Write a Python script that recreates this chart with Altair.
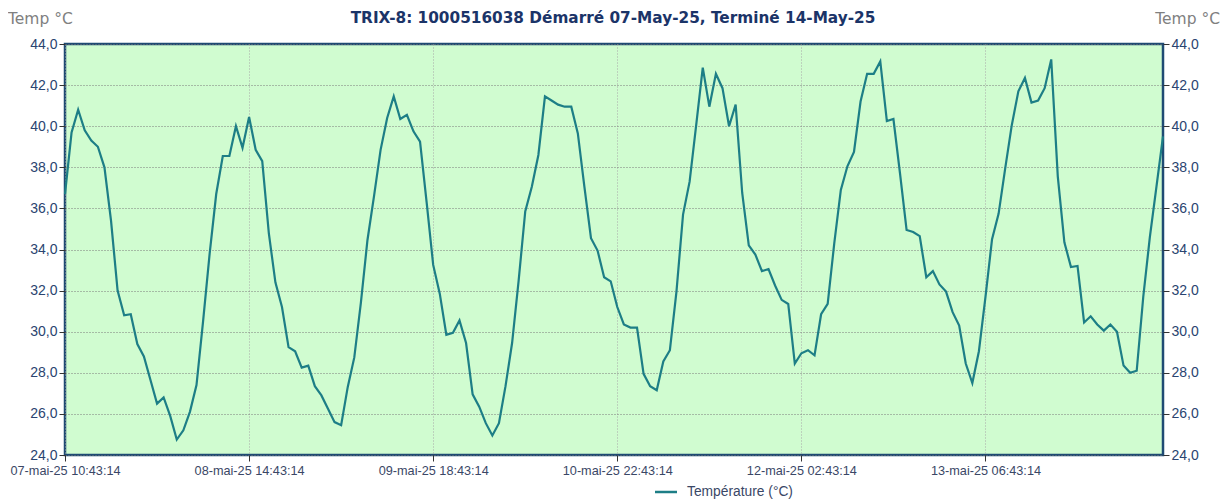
import altair as alt
import pandas as pd

# hourly readings, starting 07-mai-25 10:43:14
hours = list(range(168))
temps = [
    36.7, 39.7, 40.8, 39.8, 39.3, 39.0, 38.0, 35.4, 32.0, 30.8,
    30.85, 29.4, 28.8, 27.65, 26.5, 26.8, 25.9, 24.75, 25.2, 26.1,
    27.4, 30.5, 33.8, 36.7, 38.55, 38.55, 40.0, 38.95, 40.45, 38.85,
    38.3, 34.8, 32.4, 31.2, 29.25, 29.05, 28.25, 28.35, 27.35, 26.9,
    26.25, 25.6, 25.45, 27.3, 28.75, 31.4, 34.45, 36.6, 38.85, 40.4,
    41.45, 40.35, 40.55, 39.75, 39.25, 36.3, 33.25, 31.85, 29.85, 29.95,
    30.55, 29.45, 26.95, 26.35, 25.55, 24.95, 25.55, 27.35, 29.45, 32.5,
    35.85, 37.05, 38.6, 41.45, 41.25, 41.05, 40.95, 40.95, 39.65, 37.05,
    34.55, 33.95, 32.65, 32.45, 31.2, 30.35, 30.2, 30.2, 27.95, 27.35,
    27.15, 28.55, 29.1, 31.95, 35.7, 37.3, 40.05, 42.85, 40.95, 42.55,
    41.85, 40.0, 41.05, 36.75, 34.2, 33.75, 32.95, 33.05, 32.25, 31.55,
    31.35, 28.45, 28.95, 29.1, 28.85, 30.85, 31.35, 34.3, 36.9, 38.05,
    38.75, 41.2, 42.55, 42.55, 43.15, 40.25, 40.35, 37.7, 34.95, 34.85,
    34.65, 32.65, 32.95, 32.3, 31.95, 30.95, 30.3, 28.45, 27.5, 29.05,
    31.7, 34.5, 35.75, 37.95, 40.05, 41.7, 42.35, 41.15, 41.25, 41.85,
    43.25, 37.55, 34.35, 33.15, 33.2, 30.45, 30.75, 30.35, 30.05, 30.35,
    30.0, 28.35, 28.0, 28.1, 31.7, 34.6, 37.05, 39.5,
]
x_tick_hours = [0, 28, 56, 84, 112, 140]
x_tick_labels = [
    "07-mai-25 10:43:14", "08-mai-25 14:43:14", "09-mai-25 18:43:14",
    "10-mai-25 22:43:14", "12-mai-25 02:43:14", "13-mai-25 06:43:14",
]
y_ticks = [24, 26, 28, 30, 32, 34, 36, 38, 40, 42, 44]
title_text = "TRIX-8: 1000516038 Démarré 07-May-25, Terminé 14-May-25"
axis_title = "Temp °C"
series_name = "Température (°C)"

df = pd.DataFrame({"h": hours, "t": temps})

W, H = 1098, 411
NAVY = "#1f4b73"
LABEL_BLUE = "#2a4470"
LINE = "#1d7e86"
SANS = "Liberation Sans"
WIDE = "DejaVu Sans"

labels_js = "[" + ",".join("'" + s + "'" for s in x_tick_labels) + "]"
xscale = alt.Scale(domain=[0, 167], nice=False, zero=False)
yscale = alt.Scale(domain=[24, 44], nice=False, zero=False)
ylab = "replace(format(datum.value, '.1f'), '.', ',')"

base = alt.Chart(df)

line = base.mark_line(color=LINE, strokeWidth=2.2).encode(
    x=alt.X("h:Q", scale=xscale,
            axis=alt.Axis(values=x_tick_hours, title=None,
                          labelExpr=labels_js + "[round(datum.value/28)]",
                          grid=True, gridColor="#a8a8a8", gridDash=[1, 2],
                          gridWidth=1, tickColor="#333333", tickSize=6,
                          domain=False, labelFont=SANS,
                          labelFontSize=12.7, labelColor="#3a4766",
                          labelPadding=3, labelFlush=False)),
    y=alt.Y("t:Q", scale=yscale,
            axis=alt.Axis(values=y_ticks, title=None, labelExpr=ylab,
                          grid=True, gridColor="#7a7a7a", gridDash=[1, 2],
                          gridWidth=1, tickColor="#333333", tickSize=6,
                          domain=False, labelFont=SANS,
                          labelFontSize=14, labelColor=LABEL_BLUE,
                          labelPadding=2, orient="left")),
)

right = base.mark_line(opacity=0).encode(
    x=alt.X("h:Q", scale=xscale),
    y=alt.Y("t:Q", scale=yscale,
            axis=alt.Axis(values=y_ticks, title=None, labelExpr=ylab,
                          grid=False, tickColor="#333333", tickSize=6,
                          domain=False, labelFont=SANS,
                          labelFontSize=14, labelColor=LABEL_BLUE,
                          labelPadding=2, orient="right")),
)

title = alt.Chart(pd.DataFrame({"s": [title_text]})).mark_text(
    font=WIDE, fontSize=15.3, fontWeight="bold", color="#1b3468",
    align="center", baseline="alphabetic"
).encode(x=alt.value(W / 2 - 1), y=alt.value(-21), text="s:N")

ltitle = alt.Chart(pd.DataFrame({"s": [axis_title]})).mark_text(
    font=WIDE, fontSize=15.5, color="#808080", align="left",
    baseline="alphabetic"
).encode(x=alt.value(-57), y=alt.value(-20), text="s:N")

rtitle = alt.Chart(pd.DataFrame({"s": [axis_title]})).mark_text(
    font=WIDE, fontSize=15.5, color="#808080", align="right",
    baseline="alphabetic"
).encode(x=alt.value(1155), y=alt.value(-20), text="s:N")

swatch = alt.Chart(pd.DataFrame({"s": [series_name]})).mark_rule(
    color=LINE, strokeWidth=2.5
).encode(x=alt.value(590), x2=alt.value(612), y=alt.value(448))

legend_text = alt.Chart(pd.DataFrame({"s": [series_name]})).mark_text(
    font=SANS, fontSize=13.8, color="#3a4766",
    align="left", baseline="middle"
).encode(x=alt.value(622), y=alt.value(448), text="s:N")

chart = alt.layer(line, right, title, ltitle, rtitle, swatch, legend_text).resolve_axis(
    y="independent"
).properties(
    width=W, height=H,
    autosize=alt.AutoSizeParams(type="none"),
    padding={"left": 57, "top": 36, "right": 57, "bottom": 45},
    background="white",
).configure_view(
    fill="#d0fcd0", stroke=NAVY, strokeWidth=2.5
)

chart.save("out.html", embed_options={"renderer": "svg", "actions": False})
